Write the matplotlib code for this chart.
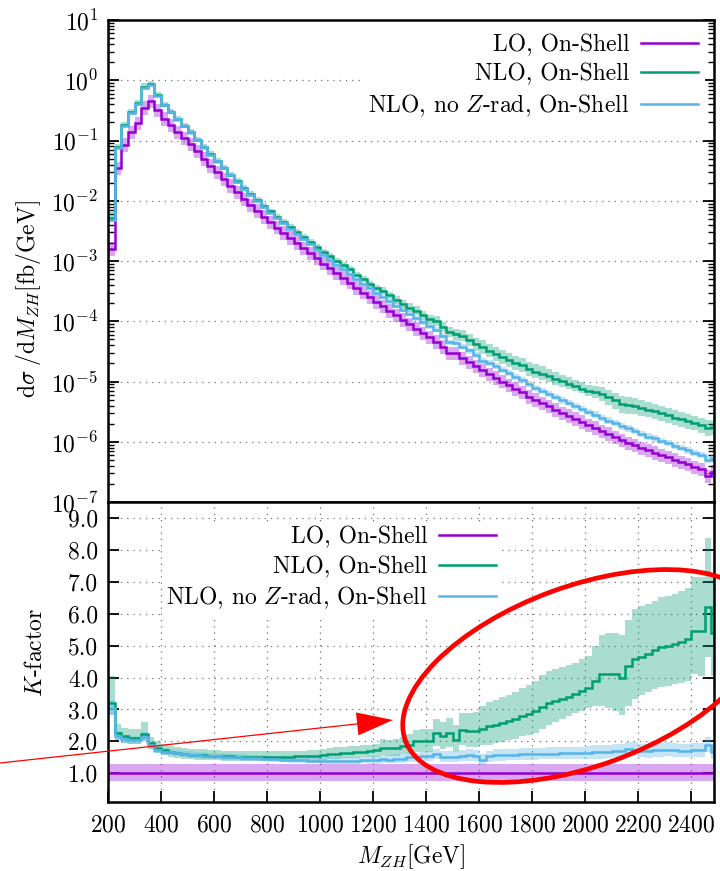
import numpy as np
import matplotlib
matplotlib.use('Agg')
import matplotlib.pyplot as plt
from matplotlib.lines import Line2D
from matplotlib.patches import Ellipse, Polygon
from matplotlib.ticker import LogLocator, FixedLocator, FormatStrFormatter, NullFormatter

plt.rcParams['font.family'] = 'serif'
plt.rcParams['font.serif'] = ['cmr10']
plt.rcParams['mathtext.fontset'] = 'cm'
plt.rcParams['axes.formatter.use_mathtext'] = True
plt.rcParams['font.size'] = 17

# bin edges of M_ZH [GeV], 25 GeV bins
edges = np.arange(200, 2501, 25)

# LO dsigma/dM_ZH [fb/GeV]
lo = np.array([
    1.6e-3, 3.5e-2, 8.5e-2, 1.38e-1, 1.95e-1, 3.5e-1, 4.5e-1, 3.2e-1, 2.3e-1, 1.78e-1,
    1.38e-1, 1.1e-1, 8.7e-2, 6.6e-2, 5.0e-2, 3.8e-2, 2.95e-2, 2.3e-2, 1.78e-2, 1.38e-2,
    1.07e-2, 8.5e-3, 6.8e-3, 5.4e-3, 4.4e-3, 3.6e-3, 2.95e-3, 2.43e-3, 2.0e-3, 1.64e-3,
    1.35e-3, 1.11e-3, 9.1e-4, 7.6e-4, 6.3e-4, 5.25e-4, 4.4e-4, 3.6e-4, 3.0e-4, 2.5e-4,
    2.1e-4, 1.78e-4, 1.5e-4, 1.26e-4, 1.06e-4, 8.9e-5, 7.5e-5, 6.3e-5, 5.4e-5, 4.55e-5,
    3.75e-5, 2.95e-5, 2.95e-5, 2.45e-5, 2.1e-5, 1.8e-5, 1.55e-5, 1.32e-5, 1.15e-5, 1.0e-5,
    8.7e-6, 7.6e-6, 6.6e-6, 5.6e-6, 4.95e-6, 4.4e-6, 3.9e-6, 3.4e-6, 3.0e-6, 2.7e-6,
    2.4e-6, 2.14e-6, 1.9e-6, 1.7e-6, 1.51e-6, 1.35e-6, 1.2e-6, 1.07e-6, 9.5e-7, 8.7e-7,
    7.9e-7, 7.2e-7, 6.6e-7, 6.0e-7, 5.5e-7, 5.0e-7, 4.6e-7, 4.2e-7, 3.8e-7, 3.5e-7,
    2.7e-7, 3.2e-7])

# K-factors (bottom panel)
k_nlo = np.array([
    3.20, 2.26, 2.16, 2.12, 2.12, 2.22, 1.95, 1.80, 1.72, 1.67,
    1.63, 1.60, 1.58, 1.57, 1.56, 1.55, 1.54, 1.53, 1.53, 1.52,
    1.52, 1.51, 1.51, 1.51, 1.51, 1.51, 1.52, 1.52, 1.53, 1.53,
    1.54, 1.55, 1.58, 1.60, 1.62, 1.63, 1.65, 1.66, 1.68, 1.69,
    1.72, 1.80, 1.79, 1.80, 1.85, 1.90, 2.00, 2.00, 2.00, 2.26,
    2.16, 2.26, 2.05, 2.37, 2.32, 2.32, 2.40, 2.47, 2.52, 2.58,
    2.64, 2.70, 2.80, 2.87, 2.95, 3.08, 3.20, 3.27, 3.34, 3.40,
    3.47, 3.57, 3.68, 3.90, 4.10, 4.10, 4.10, 4.00, 4.37, 4.58,
    4.65, 4.74, 4.85, 4.95, 5.00, 5.05, 5.12, 5.20, 5.47, 5.47,
    6.20, 5.40])
k_noz = np.array([
    3.05, 2.17, 2.07, 2.04, 2.04, 2.15, 1.88, 1.74, 1.68, 1.66,
    1.63, 1.60, 1.58, 1.56, 1.55, 1.54, 1.53, 1.52, 1.51, 1.50,
    1.49, 1.48, 1.47, 1.46, 1.45, 1.44, 1.43, 1.42, 1.41, 1.41,
    1.40, 1.40, 1.39, 1.39, 1.39, 1.40, 1.40, 1.40, 1.41, 1.41,
    1.42, 1.44, 1.43, 1.45, 1.46, 1.50, 1.50, 1.53, 1.54, 1.60,
    1.52, 1.52, 1.50, 1.55, 1.56, 1.55, 1.42, 1.53, 1.56, 1.57,
    1.58, 1.58, 1.59, 1.60, 1.60, 1.61, 1.62, 1.62, 1.63, 1.63,
    1.64, 1.64, 1.65, 1.66, 1.66, 1.67, 1.70, 1.69, 1.75, 1.74,
    1.70, 1.69, 1.72, 1.72, 1.74, 1.72, 1.71, 1.71, 1.72, 1.72,
    1.88, 1.66])

# scale-variation bands, relative to the central value
lo_up, lo_dn = 1.28, 0.77
nlo_up = np.array([
    1.27, 1.12, 1.12, 1.12, 1.12, 1.18, 1.10, 1.12, 1.12, 1.12,
    1.12, 1.12, 1.12, 1.12, 1.12, 1.12, 1.12, 1.12, 1.12, 1.12,
    1.12, 1.12, 1.12, 1.12, 1.12, 1.12, 1.12, 1.12, 1.12, 1.12,
    1.12, 1.12, 1.12, 1.12, 1.12, 1.12, 1.12, 1.12, 1.12, 1.12,
    1.12, 1.15, 1.15, 1.15, 1.16, 1.17, 1.18, 1.19, 1.20, 1.20,
    1.21, 1.21, 1.22, 1.22, 1.24, 1.26, 1.30, 1.31, 1.31, 1.31,
    1.31, 1.31, 1.31, 1.31, 1.32, 1.32, 1.31, 1.31, 1.30, 1.29,
    1.28, 1.28, 1.27, 1.28, 1.30, 1.32, 1.32, 1.33, 1.33, 1.34,
    1.34, 1.33, 1.32, 1.32, 1.31, 1.31, 1.31, 1.31, 1.31, 1.31,
    1.35, 1.33])
nlo_dn = np.array([
    0.88, 0.90, 0.90, 0.90, 0.90, 0.90, 0.90, 0.91, 0.91, 0.91,
    0.91, 0.91, 0.91, 0.91, 0.91, 0.91, 0.91, 0.91, 0.91, 0.91,
    0.91, 0.91, 0.91, 0.91, 0.91, 0.91, 0.91, 0.91, 0.91, 0.91,
    0.90, 0.90, 0.90, 0.90, 0.90, 0.90, 0.90, 0.90, 0.89, 0.89,
    0.88, 0.87, 0.87, 0.86, 0.86, 0.85, 0.84, 0.84, 0.83, 0.82,
    0.82, 0.81, 0.81, 0.80, 0.79, 0.78, 0.78, 0.77, 0.77, 0.77,
    0.77, 0.77, 0.77, 0.77, 0.77, 0.78, 0.79, 0.80, 0.81, 0.82,
    0.83, 0.83, 0.83, 0.80, 0.76, 0.74, 0.72, 0.71, 0.71, 0.73,
    0.74, 0.75, 0.75, 0.75, 0.75, 0.75, 0.75, 0.75, 0.75, 0.74,
    0.75, 0.75])
noz_up = np.array([
    1.08, 1.07, 1.07, 1.07, 1.07, 1.07, 1.07, 1.07, 1.07, 1.07,
    1.07, 1.07, 1.07, 1.07, 1.07, 1.07, 1.07, 1.07, 1.07, 1.07,
    1.07, 1.07, 1.07, 1.07, 1.07, 1.07, 1.07, 1.07, 1.07, 1.07,
    1.07, 1.07, 1.07, 1.08, 1.08, 1.08, 1.08, 1.08, 1.08, 1.09,
    1.09, 1.09, 1.09, 1.10, 1.10, 1.10, 1.10, 1.10, 1.11, 1.11,
    1.11, 1.11, 1.11, 1.11, 1.12, 1.12, 1.12, 1.12, 1.12, 1.12,
    1.12, 1.12, 1.12, 1.12, 1.12, 1.12, 1.12, 1.12, 1.12, 1.12,
    1.12, 1.12, 1.13, 1.13, 1.13, 1.13, 1.13, 1.13, 1.13, 1.13,
    1.13, 1.13, 1.13, 1.13, 1.13, 1.13, 1.13, 1.13, 1.13, 1.13,
    1.13, 1.13])
noz_dn = np.array([
    0.93, 0.94, 0.94, 0.94, 0.94, 0.94, 0.94, 0.94, 0.94, 0.94,
    0.94, 0.94, 0.94, 0.94, 0.94, 0.94, 0.94, 0.94, 0.94, 0.94,
    0.94, 0.94, 0.94, 0.94, 0.94, 0.94, 0.94, 0.94, 0.94, 0.94,
    0.94, 0.94, 0.94, 0.93, 0.93, 0.93, 0.93, 0.93, 0.93, 0.92,
    0.92, 0.92, 0.92, 0.91, 0.91, 0.91, 0.91, 0.91, 0.90, 0.90,
    0.90, 0.90, 0.90, 0.90, 0.89, 0.89, 0.89, 0.89, 0.89, 0.89,
    0.89, 0.89, 0.89, 0.89, 0.89, 0.89, 0.89, 0.89, 0.88, 0.88,
    0.88, 0.88, 0.88, 0.88, 0.88, 0.88, 0.88, 0.88, 0.88, 0.88,
    0.88, 0.88, 0.88, 0.88, 0.88, 0.88, 0.88, 0.88, 0.88, 0.88,
    0.88, 0.88])

labels = ['LO, On-Shell', 'NLO, On-Shell', r'NLO, no $Z$-rad, On-Shell']
colors = ['#9400d3', '#009e73', '#56b4e9']

nlo = lo * k_nlo
noz = lo * k_noz
k_lo = np.ones_like(lo)

fig = plt.figure(figsize=(7.2, 8.71), dpi=100)
ax1 = fig.add_axes([0.15, 0.4236, 0.8417, 0.5534])
ax2 = fig.add_axes([0.15, 0.0792, 0.8417, 0.3444], sharex=ax1)

w = np.diff(edges)
left = edges[:-1]
dots = (0, (1, 4))
band_alpha = 0.34

# ---- top panel: distribution
ax1.set_yscale('log')
for c, y, u, d in [(colors[0], lo, lo_up, lo_dn), (colors[1], nlo, nlo_up, nlo_dn),
                   (colors[2], noz, noz_up, noz_dn)]:
    ax1.bar(left, y * (u - d), bottom=y * d, width=w, align='edge',
            color=c, alpha=band_alpha, linewidth=0)
for c, y in zip(colors, [lo, nlo, noz]):
    ax1.stairs(y, edges, baseline=None, color=c, lw=1.8)

ax1.set_xlim(200, 2485)
ax1.set_ylim(1e-7, 1e1)
ax1.yaxis.set_major_locator(LogLocator(base=10, numticks=20))
ax1.yaxis.set_minor_locator(LogLocator(base=10, subs=np.arange(2, 10), numticks=20))
ax1.yaxis.set_minor_formatter(NullFormatter())
ax1.tick_params(axis='y', which='both', direction='in', left=True, right=True, pad=7)
ax1.tick_params(axis='y', which='major', length=8, width=1.3)
ax1.tick_params(axis='y', which='minor', length=4, width=1.0)
ax1.tick_params(axis='x', which='both', bottom=False, top=False, labelbottom=False)
ax1.set_axisbelow(True)
ax1.yaxis.grid(True, which='major', ls=dots, color='0.45', lw=0.9)
ax1.set_ylabel(r'$\mathrm{d}\sigma\;/\mathrm{d}M_{ZH}[\mathrm{fb/GeV}]$')
ax1.yaxis.set_label_coords(-0.108, 0.42)

handles = [Line2D([], [], color=c, lw=1.8) for c in colors]
ax1.legend(handles, labels, loc='upper right', bbox_to_anchor=(0.997, 1.0),
           markerfirst=False, frameon=True, fancybox=False, edgecolor='none',
           facecolor='white', framealpha=1, handlelength=2.4, handletextpad=0.5,
           labelspacing=0.3, borderaxespad=0.3, borderpad=0.3)

# ---- bottom panel: K-factor
for c, k, u, d in [(colors[0], k_lo, lo_up, lo_dn), (colors[1], k_nlo, nlo_up, nlo_dn),
                   (colors[2], k_noz, noz_up, noz_dn)]:
    ax2.bar(left, k * (u - d), bottom=k * d, width=w, align='edge',
            color=c, alpha=band_alpha, linewidth=0)
for c, k in zip(colors, [k_lo, k_nlo, k_noz]):
    ax2.stairs(k, edges, baseline=None, color=c, lw=1.8)

ax2.set_ylim(0.1, 9.5)
ax2.yaxis.set_major_locator(FixedLocator(np.arange(1, 10)))
ax2.yaxis.set_major_formatter(FormatStrFormatter('%.1f'))
ax2.xaxis.set_major_locator(FixedLocator(np.arange(200, 2401, 200)))
ax2.tick_params(axis='both', which='major', direction='in', length=8, width=1.3,
                left=True, right=True, bottom=True, top=False)
ax2.tick_params(axis='y', pad=7)
ax2.tick_params(axis='x', pad=9)
ax2.set_axisbelow(True)
ax2.grid(True, which='major', ls=dots, color='0.45', lw=0.9)
ax2.set_ylabel(r'$K$-factor')
ax2.yaxis.set_label_coords(-0.1, 0.5)
ax2.set_xlabel(r'$M_{ZH}[\mathrm{GeV}]$', labelpad=4)

ax2.legend(handles, labels, loc='upper right', bbox_to_anchor=(0.648, 0.935),
           markerfirst=False, frameon=True, fancybox=False, edgecolor='none',
           facecolor='white', framealpha=1, handlelength=2.4, handletextpad=0.5,
           labelspacing=0.3, borderaxespad=0.0, borderpad=0.2)

for ax in (ax1, ax2):
    for s in ax.spines.values():
        s.set_linewidth(1.8)

# ---- red hand-drawn annotation (figure pixel positions)
H = 871.0
def px(x, y):
    return (x / 100.0, (H - y) / 100.0)

ell_center, ell_w, ell_h, ell_angle = (583, 676), 378, 180, 20
fig.add_artist(Ellipse(px(*ell_center), ell_w / 100.0, ell_h / 100.0, angle=ell_angle,
                       transform=fig.dpi_scale_trans, fill=False, ec='red', lw=3.4))

arrow_tail, arrow_tip = np.array([0.0, 763.0]), np.array([393.0, 720.0])
u = (arrow_tip - arrow_tail) / np.hypot(*(arrow_tip - arrow_tail))
nvec = np.array([-u[1], u[0]])
base = arrow_tip - 36 * u
head = [px(*arrow_tip), px(*(base + 11.5 * nvec)), px(*(base - 11.5 * nvec))]
fig.add_artist(Line2D([px(*arrow_tail)[0], px(*base)[0]], [px(*arrow_tail)[1], px(*base)[1]],
                      transform=fig.dpi_scale_trans, color='red', lw=0.9))
fig.add_artist(Polygon(head, closed=True, transform=fig.dpi_scale_trans,
                       color='red', lw=0))

fig.savefig('out.png', dpi=100)
